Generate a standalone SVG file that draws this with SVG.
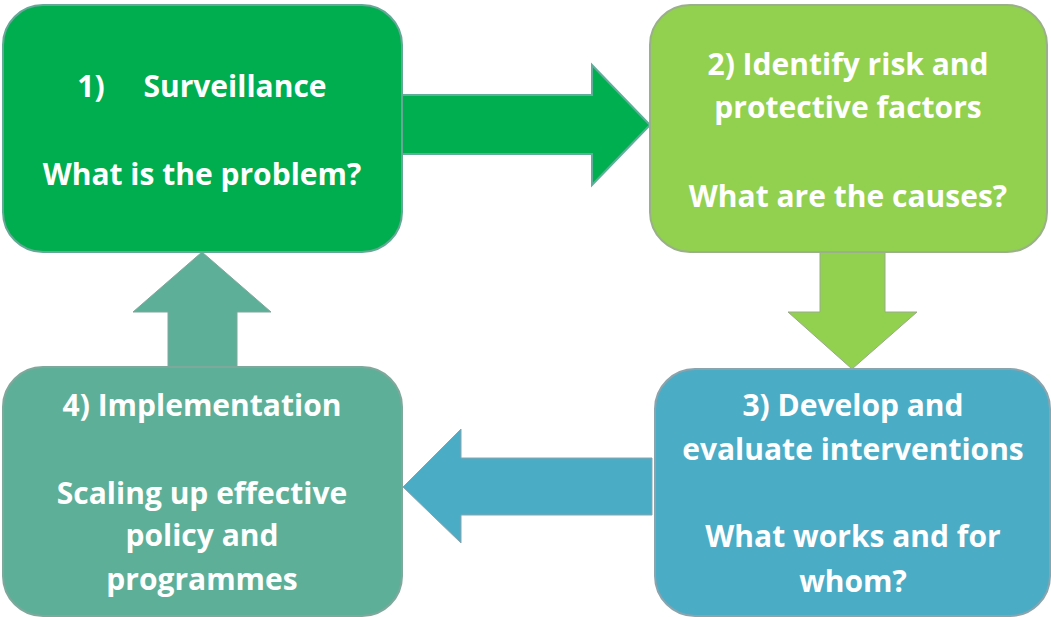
<svg xmlns="http://www.w3.org/2000/svg" width="1051" height="617" viewBox="0 0 1051 617">
<style>
.lbl{font-family:"Open Sans","Liberation Sans",sans-serif;font-weight:bold;font-size:30px;fill:#ffffff;text-anchor:middle}
.box{stroke-width:2}
</style>
<rect width="1051" height="617" fill="#ffffff"/>
<g id="connectors">
<polygon id="a1" points="401,95 592,95 592,65 650,125 592,185 592,154 401,154" fill="#00B050" stroke="#5FAE99" stroke-width="2"/>
<polygon id="a2" points="820,252 885,252 885,312 917,312 852,369 788,312 820,312" fill="#92D050" stroke="#9AAA8A" stroke-width="1"/>
<polygon id="a3" points="652,458 461,458 461,429 403,487 461,543 461,515 652,515" fill="#4BACC6" stroke="#8AA4AE" stroke-width="1"/>
<polygon id="a4" points="168,367 168,312 133,312 202,252 271,312 237,312 237,367" fill="#5EAF98" stroke="#7FA89C" stroke-width="1"/>
</g>
<g id="n1">
<rect class="box" x="3" y="5" width="399" height="247" rx="40" fill="#00AE4F" stroke="#64A895"/>
<text class="lbl" x="91" y="97">1)</text>
<text class="lbl" x="235" y="97">Surveillance</text>
<text class="lbl" x="202" y="185">What is the problem?</text>
</g>
<g id="n2">
<rect class="box" x="650" y="5" width="397" height="247" rx="40" fill="#92D050" stroke="#9AB088"/>
<text class="lbl" x="848" y="75">2) Identify risk and</text>
<text class="lbl" x="848" y="118">protective factors</text>
<text class="lbl" x="848" y="207">What are the causes?</text>
</g>
<g id="n3">
<rect class="box" x="655" y="369" width="395" height="247" rx="40" fill="#4BACC6" stroke="#8AA4AE"/>
<text class="lbl" x="853" y="416">3) Develop and</text>
<text class="lbl" x="853" y="460">evaluate interventions</text>
<text class="lbl" x="853" y="547">What works and for</text>
<text class="lbl" x="853" y="592">whom?</text>
</g>
<g id="n4">
<rect class="box" x="3" y="367" width="399" height="249" rx="40" fill="#5EAF98" stroke="#7FA89C"/>
<text class="lbl" x="202" y="416">4) Implementation</text>
<text class="lbl" x="202" y="504">Scaling up effective</text>
<text class="lbl" x="202" y="546">policy and</text>
<text class="lbl" x="202" y="590">programmes</text>
</g>
</svg>
